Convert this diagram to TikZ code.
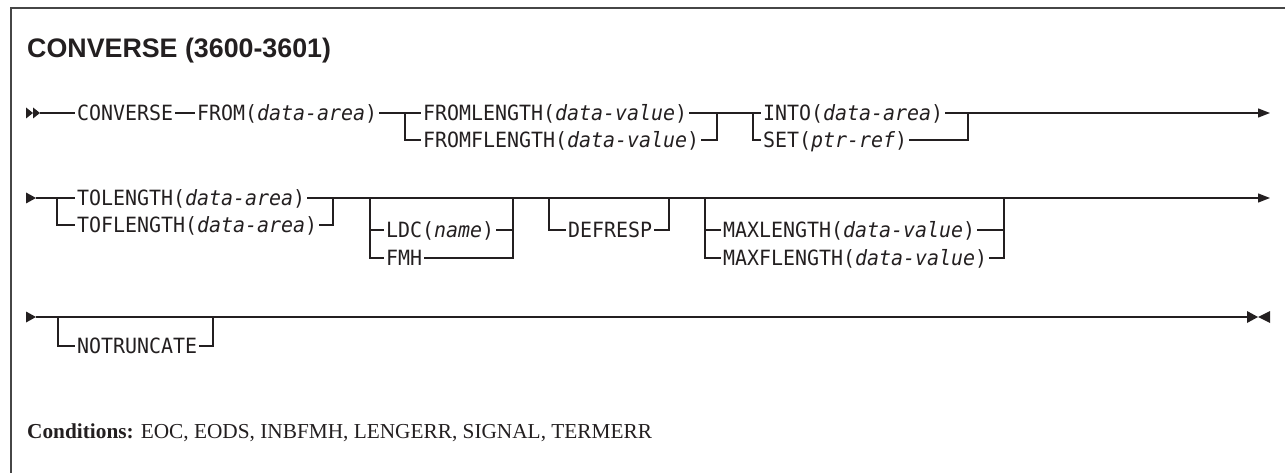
\documentclass[tikz,border=0pt]{standalone}
\usepackage{fontspec}
\setmainfont{Liberation Serif}
\newfontfamily\titlefont{Liberation Sans}
\newfontfamily\kwfont[FakeStretch=0.95]{DejaVu Sans Mono}
\usetikzlibrary{arrows.meta}
\definecolor{ink}{RGB}{35,31,32}
\definecolor{frame}{RGB}{70,70,70}
\begin{document}
\begin{tikzpicture}[x=1pt,y=-1pt,
  kw/.style={inner xsep=2pt, inner ysep=0pt, outer sep=0pt, anchor=west,
    font=\kwfont\fontsize{21}{21}\selectfont, text height=15.3pt, text depth=0pt, text=ink},
  rail/.style={draw=ink, line width=1.3pt},
  endrail/.style={rail, -{Triangle[length=12pt,width=9pt]}},
  tip/.style={fill=ink, draw=none}]
\useasboundingbox (0,0) rectangle (1285,473);
% frame
\draw[frame, line width=1.8pt] (11,473) -- (11,8) -- (1285,8);
% title
\node[anchor=base west, inner sep=0pt, text=ink, font=\titlefont\bfseries\fontsize{26.8}{26.8}\selectfont] (title) at (27,58) {CONVERSE (3600-3601)};
% ---------------- row 1
\coordinate (s1) at (40,113);
\node[kw] (conv) at (75,113) {CONVERSE};
\node[kw] (from) at (195,113) {FROM(\textit{data-area})};
\node[kw] (fl) at (421,113) {FROMLENGTH(\textit{data-value})};
\node[kw] (ffl) at (421,140) {FROMFLENGTH(\textit{data-value})};
\node[kw] (into) at (761,113) {INTO(\textit{data-area})};
\node[kw] (set) at (761,140) {SET(\textit{ptr-ref})};
\coordinate (j1) at (405,113);
\coordinate (j2) at (717,113);
\coordinate (j3) at (753,113);
\coordinate (j4) at (968,113);
\coordinate (e1) at (1270,113);
\fill[tip] (26,107.5) -- (33,113) -- (26,118.5) -- cycle;
\fill[tip] (33,107.5) -- (40,113) -- (33,118.5) -- cycle;
\draw[rail] (s1) -- (conv.west);
\draw[rail] (conv.east) -- (from.west);
\draw[rail] (from.east) -- (fl.west);
\draw[rail] (j1) |- (ffl.west);
\draw[rail] (fl.east) -- (j2);
\draw[rail] (ffl.east) -| (j2);
\draw[rail] (j2) -- (into.west);
\draw[rail] (j3) |- (set.west);
\draw[rail] (into.east) -- (j4);
\draw[rail] (set.east) -| (j4);
\draw[endrail] (j4) -- (e1);
% ---------------- row 2
\coordinate (s2) at (36,198);
\node[kw] (tol) at (75,198) {TOLENGTH(\textit{data-area})};
\node[kw] (tofl) at (75,225) {TOFLENGTH(\textit{data-area})};
\node[kw] (ldc) at (384,230) {LDC(\textit{name})};
\node[kw] (fmh) at (384,258) {FMH};
\node[kw] (defr) at (566,230) {DEFRESP};
\node[kw] (maxl) at (721,230) {MAXLENGTH(\textit{data-value})};
\node[kw] (maxfl) at (721,258) {MAXFLENGTH(\textit{data-value})};
\coordinate (k1) at (57,198);
\coordinate (k2) at (333,198);
\coordinate (k3) at (370,198);
\coordinate (k4) at (513,198);
\coordinate (k5) at (549,198);
\coordinate (k6) at (669,198);
\coordinate (k7) at (705,198);
\coordinate (k8) at (1004,198);
\coordinate (e2) at (1270,198);
\fill[tip] (26,192.5) -- (36,198) -- (26,203.5) -- cycle;
\draw[rail] (s2) -- (tol.west);
\draw[rail] (k1) |- (tofl.west);
\draw[rail] (tol.east) -- (k2);
\draw[rail] (tofl.east) -| (k2);
\draw[endrail] (k2) -- (e2);
\draw[rail] (k3) |- (fmh.west);
\draw[rail] (ldc.west) -- (ldc.west -| k3);
\draw[rail] (fmh.east) -| (k4);
\draw[rail] (ldc.east) -- (ldc.east -| k4);
\draw[rail] (k5) |- (defr.west);
\draw[rail] (defr.east) -| (k6);
\draw[rail] (k7) |- (maxfl.west);
\draw[rail] (maxl.west) -- (maxl.west -| k7);
\draw[rail] (maxfl.east) -| (k8);
\draw[rail] (maxl.east) -- (maxl.east -| k8);
% ---------------- row 3
\coordinate (s3) at (36,317);
\coordinate (n1) at (58,317);
\coordinate (n2) at (213,317);
\coordinate (e3) at (1247,317);
\node[kw] (notr) at (75,346) {NOTRUNCATE};
\fill[tip] (26,311.5) -- (36,317) -- (26,322.5) -- cycle;
\draw[rail] (s3) -- (e3);
\draw[rail] (n1) |- (notr.west);
\draw[rail] (notr.east) -| (n2);
\fill[tip] (1247,311) -- (1258,317) -- (1247,323) -- cycle;
\fill[tip] (1270,311) -- (1258,317) -- (1270,323) -- cycle;
% ---------------- conditions
\node[anchor=base west, inner sep=0pt, text=ink, font=\fontsize{21.3}{21.3}\selectfont] (cond) at (27,438) {\textbf{Conditions:} EOC, EODS, INBFMH, LENGERR, SIGNAL, TERMERR};
\end{tikzpicture}
\end{document}
